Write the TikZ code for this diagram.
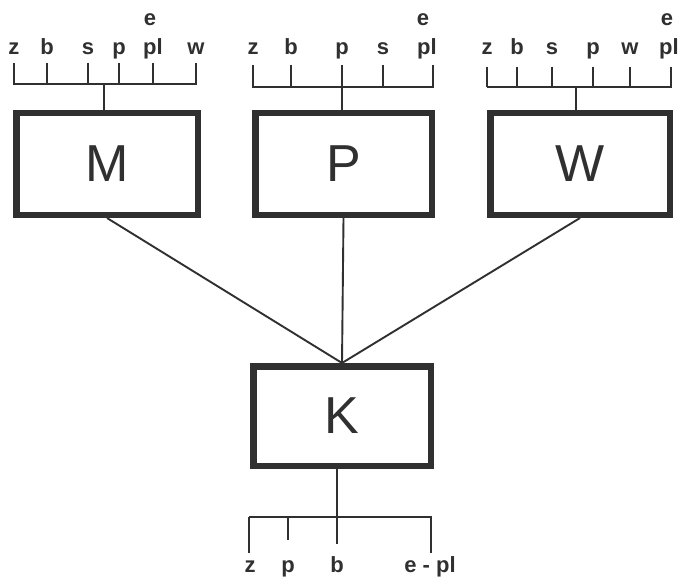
\documentclass[tikz,border=0pt]{standalone}
\usepackage{fontspec}
\setmainfont{Liberation Sans}
\definecolor{ink}{RGB}{48,48,48}
\begin{document}
\begin{tikzpicture}[x=1pt,y=-1pt,
  box/.style={draw=ink,line width=6.5pt,inner sep=0pt,text=ink,font=\fontsize{52}{52}\selectfont},
  lab/.style={anchor=base,inner sep=0pt,text=ink,font=\fontsize{22}{22}\selectfont\bfseries},
  wire/.style={draw=ink,line width=1.9pt}]
\useasboundingbox[fill=white] (0,0) rectangle (679,580);
% boxes
\node[box,minimum width=181.5pt,minimum height=101.5pt] (M) at (107,164) {M};
\node[box,minimum width=176.5pt,minimum height=101.5pt] (P) at (343.5,164) {P};
\node[box,minimum width=179.5pt,minimum height=101.5pt] (W) at (580,164) {W};
\node[box,minimum width=177.5pt,minimum height=99.5pt] (K) at (342,416) {K};
% connectors to K
\draw[wire] (M.south) -- (K.north);
\draw[wire] (P.south) -- (K.north);
\draw[wire] (W.south) -- (K.north);
% tree over M
\coordinate (mb) at (104,84);
\draw[wire] (13,84) -- (197,84);
\draw[wire] (mb) -- (mb |- M.north);
\foreach \t/\l/\s in {14/14/z,47/47/b,88/88/s,119/119/p,153/153/pl,196/196/w}
  {\node[lab] at (\l,55) {\s}; \draw[wire] (\t,63) -- (\t,84);}
\node[lab] (me) at (150,26) {e};
% tree over P
\coordinate (pb) at (342,87);
\draw[wire] (252,87) -- (434,87);
\draw[wire] (pb) -- (pb |- P.north);
\foreach \t/\l/\s in {253/253/z,291/291/b,342/342/p,383/383/s,433/427/pl}
  {\node[lab] at (\l,55) {\s}; \draw[wire] (\t,65) -- (\t,87);}
\node[lab] (pe) at (423,26) {e};
% tree over W
\coordinate (wb) at (576,87);
\draw[wire] (487,87) -- (672,87);
\draw[wire] (wb) -- (wb |- W.north);
\foreach \t/\l/\s in {487/487/z,517/517/b,552/552/s,593/593/p,630/630/w,671/669/pl}
  {\node[lab] at (\l,55) {\s}; \draw[wire] (\t,67) -- (\t,87);}
\node[lab] (we) at (667,26) {e};
% tree under K
\coordinate (kb) at (337,544);
\draw[wire] (K.south -| kb) -- (kb);
\draw[wire] (249,517) -- (432,517);
\draw[wire] (249,517) -- (249,553);
\draw[wire] (288,517) -- (288,540);
\draw[wire] (431,517) -- (431,553);
\node[lab] (kz) at (250,572) {z};
\node[lab] (kp) at (288,572) {p};
\node[lab] (kbl) at (337,572) {b};
\node[lab] (kepl) at (430,572) {e - pl};
\end{tikzpicture}
\end{document}
